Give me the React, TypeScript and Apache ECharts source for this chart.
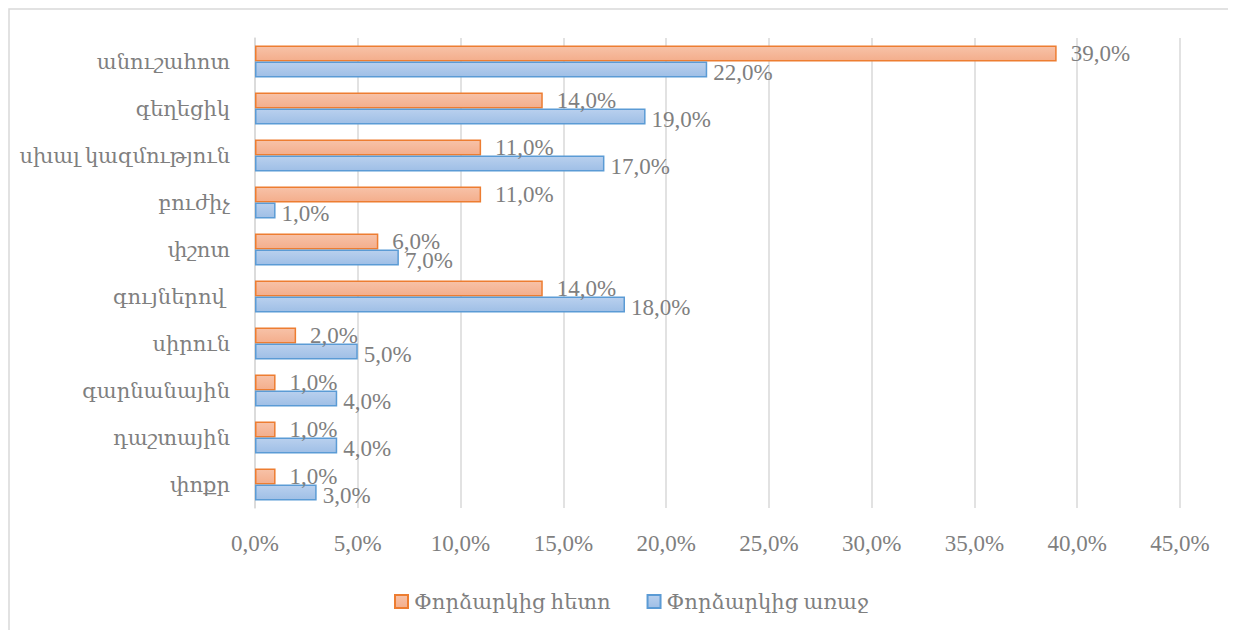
import React, { useEffect, useRef } from "react";
import * as echarts from "echarts";

const categories = [
  "անուշահոտ",
  "գեղեցիկ",
  "սխալ կազմություն",
  "բուժիչ",
  "փշոտ",
  "գույներով ",
  "սիրուն",
  "գարնանային",
  "դաշտային",
  "փոքր",
];
const afterValues = [39, 14, 11, 11, 6, 14, 2, 1, 1, 1];
const beforeValues = [22, 19, 17, 1, 7, 18, 5, 4, 4, 3];
const seriesNames = ["Փորձարկից հետո", "Փորձարկից առաջ"];

const FONT = "'Liberation Serif', 'DejaVu Serif', serif";
const TEXT = "#7f7f7f";

export default function App() {
  const ref = useRef<HTMLDivElement>(null);
  useEffect(() => {
    if (!ref.current) return;
    const chart = echarts.init(ref.current, null, { renderer: "svg" });
    const fmt = (p: any) => p.value.toFixed(1).replace(".", ",") + "%";
    chart.setOption({
      animation: false,
      textStyle: { fontFamily: FONT },
      graphic: [
        {
          type: "rect",
          shape: { x: 1, y: 1, width: 1300, height: 700 },
          style: { fill: "none", stroke: "#d9d9d9", lineWidth: 1.5 },
          silent: true,
        },
      ],
      grid: { left: 247, right: 56, top: 30, bottom: 122, containLabel: false },
      legend: {
        data: seriesNames,
        left: 381,
        top: 578,
        itemWidth: 13,
        itemHeight: 13,
        itemGap: 36,
        icon: "rect",
        textStyle: { fontFamily: FONT, fontSize: 21, color: TEXT, padding: [0, 0, 0, 1] },
      },
      xAxis: {
        type: "value",
        min: 0,
        max: 45,
        interval: 5,
        axisLine: { show: false },
        axisTick: { show: false },
        splitLine: { lineStyle: { color: "#d9d9d9", width: 1.5 } },
        axisLabel: {
          fontFamily: FONT,
          fontSize: 23,
          color: TEXT,
          margin: 24,
          formatter: (v: number) => v.toFixed(1).replace(".", ",") + "%",
        },
      },
      yAxis: {
        type: "category",
        data: categories,
        inverse: true,
        axisLine: { show: true, lineStyle: { color: "#d9d9d9", width: 1.5 } },
        axisTick: { show: false },
        axisLabel: { fontFamily: FONT, fontSize: 21, color: TEXT, margin: 25 },
      },
      series: [
        {
          name: seriesNames[0],
          type: "bar",
          data: afterValues,
          barGap: "0%",
          barCategoryGap: "32%",
          itemStyle: {
            color: new echarts.graphic.LinearGradient(0, 0, 0, 1, [
              { offset: 0, color: "#f7c2a8" },
              { offset: 1, color: "#f4ae8c" },
            ]),
            borderColor: "#ed7d31",
            borderWidth: 1.5,
          },
          label: {
            show: true,
            position: "right",
            distance: 14,
            fontFamily: FONT,
            fontSize: 23,
            color: TEXT,
            formatter: fmt,
          },
        },
        {
          name: seriesNames[1],
          type: "bar",
          data: beforeValues,
          barGap: "0%",
          barCategoryGap: "32%",
          itemStyle: {
            color: new echarts.graphic.LinearGradient(0, 0, 0, 1, [
              { offset: 0, color: "#b9d0ee" },
              { offset: 1, color: "#9fbfe6" },
            ]),
            borderColor: "#5b9bd5",
            borderWidth: 1.5,
          },
          label: {
            show: true,
            position: "right",
            distance: 6,
            offset: [0, 3],
            fontFamily: FONT,
            fontSize: 23,
            color: TEXT,
            formatter: fmt,
          },
        },
      ],
    });
    return () => chart.dispose();
  }, []);
  return <div ref={ref} style={{ width: 1228, height: 622 }} />;
}
